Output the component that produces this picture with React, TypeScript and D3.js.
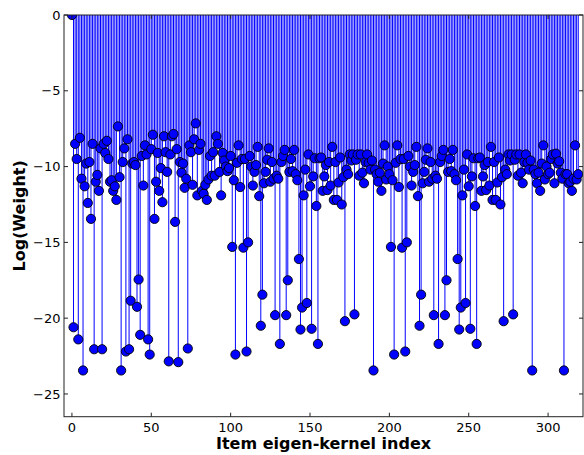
import React from 'react';
import * as d3 from 'd3';

// log weights, index 0..319 in four blocks
const weightsA = [
  0, -20.6, -8.5, -9.5, -21.4, -8.1, -10.8, -23.45, -11.3, -9.8,
  -12.4, -9.7, -13.45, -8.5, -22.05, -11.0, -10.55, -11.6, -8.8, -22.05,
  -8.5, -9.1, -8.3, -9.5, -11.0, -10.9, -11.6, -11.3, -12.2, -7.35,
  -10.7, -23.45, -9.7, -8.8, -22.2, -8.2, -22.05, -18.85, -9.8, -9.7,
  -9.9, -19.25, -17.45, -21.1, -9.3, -11.25, -8.6, -9.2, -21.4, -22.4,
  -8.85, -7.9, -13.45, -11.0, -9.1, -11.6, -10.1, -12.35, -8.0, -9.05,
  -10.35, -22.85, -9.2, -8.0, -7.85, -13.65, -8.85, -22.9, -9.7, -10.4,
  -9.8, -11.4, -10.8, -22.0, -8.6, -9.05, -11.2, -8.2, -7.15, -11.9,
  -8.9, -8.5, -11.6, -11.8, -11.2, -12.2, -10.85, -9.3, -10.6, -9.05,
  -10.6, -8.0, -8.5, -10.35, -11.9, -9.1, -9.6, -10.0, -10.3, -10.1,
];

const weightsB = [
  -9.3, -15.3, -10.9, -22.4, -9.75, -8.6, -11.35, -9.5, -15.35, -9.5,
  -22.2, -15.0, -9.3, -10.0, -11.25, -10.35, -9.9, -8.7, -11.95, -20.5,
  -18.45, -11.1, -10.35, -9.55, -8.8, -11.0, -9.7, -10.8, -19.8, -10.6,
  -10.8, -21.7, -9.7, -9.3, -8.9, -19.8, -17.5, -10.35, -9.5, -10.3,
  -8.9, -10.5, -10.9, -16.1, -20.75, -19.3, -11.9, -10.2, -19.0, -9.2,
  -11.3, -20.7, -10.65, -9.45, -12.6, -21.7, -9.45, -9.4, -11.6, -10.65,
  -9.9, -11.55, -9.7, -11.25, -8.7, -12.2, -9.7, -12.2, -11.05, -9.4,
  -12.5, -10.7, -20.2, -10.2, -10.5, -9.2, -9.6, -9.2, -19.75, -9.55,
  -9.2, -10.6, -9.2, -10.4, -11.1, -9.7, -9.2, -9.75, -10.2, -9.6,
  -23.45, -10.2, -10.5, -11.0, -10.4, -11.6, -9.8, -8.6, -10.85, -10.0,
];

const weightsC = [
  -10.5, -15.3, -10.9, -22.4, -9.75, -8.6, -11.35, -9.5, -15.35, -9.5,
  -22.2, -15.0, -9.3, -10.0, -11.25, -10.35, -9.9, -8.7, -11.95, -20.5,
  -18.45, -11.1, -10.35, -9.55, -8.8, -11.0, -9.7, -10.8, -19.8, -10.6,
  -10.8, -21.7, -9.7, -9.3, -8.9, -19.8, -17.5, -10.35, -9.5, -10.3,
  -8.9, -10.5, -10.9, -16.1, -20.75, -19.3, -11.9, -10.2, -19.0, -9.2,
  -11.3, -20.7, -10.65, -9.45, -12.6, -21.7, -9.45, -9.4, -11.6, -10.65,
  -9.9, -11.55, -9.7, -11.25, -8.7, -12.2, -9.7, -12.2, -11.05, -9.4,
  -12.5, -10.7, -20.2, -10.2, -10.5, -9.2, -9.6, -9.2, -19.75, -9.55,
  -9.2, -10.6, -9.2, -10.4, -11.1, -9.7, -9.2, -9.75, -10.2, -9.6,
  -23.45, -10.2, -10.5, -11.1, -10.4, -11.6, -9.8, -8.6, -10.85, -10.0,
];

const weightsD = [
  -10.5, -10.4, -9.5, -9.2, -11.1, -9.15, -9.8, -9.65, -10.4, -10.8,
  -23.45, -10.5, -10.5, -11.1, -11.0, -11.6, -10.8, -8.6, -10.85, -10.5,
];

const xTicks = [0, 50, 100, 150, 200, 250, 300];
const yTicks = [0, -5, -10, -15, -20, -25];
const xLabel = 'Item eigen-kernel index';
const yLabel = 'Log(Weight)';

const W = 584;
const H = 455;
const left = 64;
const right = 583;
const top = 15;
const bottom = 416.7;

const App = () => {
  const weights = [...weightsA, ...weightsB, ...weightsC, ...weightsD];
  const x = d3.scaleLinear().domain([-5, 322]).range([left, right]);
  const y = d3.scaleLinear().domain([-26.5, 0]).range([bottom, top]);
  const fmt = (v: number) => (v < 0 ? '\u2212' + Math.abs(v) : String(v));
  const font = 'DejaVu Sans, sans-serif';

  return (
    <svg
      width={W}
      height={H}
      style={{ position: 'absolute', left: 0, top: 0, background: '#fff' }}
    >
      <defs>
        <clipPath id="plotArea">
          <rect x={left} y={top} width={right - left} height={bottom - top} />
        </clipPath>
      </defs>
      <g clipPath="url(#plotArea)">
        {/* stems */}
        {weights.map((v, i) => (
          <line
            key={'s' + i}
            x1={x(i)}
            x2={x(i)}
            y1={y(0)}
            y2={y(v)}
            stroke="#0000ff"
            strokeWidth={1}
          />
        ))}
        {/* markers */}
        {weights.map((v, i) => (
          <circle
            key={'m' + i}
            cx={x(i)}
            cy={y(v)}
            r={4.6}
            fill="#0000ff"
            stroke="#000"
            strokeWidth={0.9}
          />
        ))}
      </g>

      {/* frame */}
      <rect
        x={left}
        y={top}
        width={right - left}
        height={bottom - top}
        fill="none"
        stroke="#222"
        strokeWidth={1}
      />

      {/* x ticks, bottom and top, pointing inward */}
      {xTicks.map((t) => (
        <g key={'xt' + t}>
          <line x1={x(t)} x2={x(t)} y1={bottom} y2={bottom - 4} stroke="#222" />
          <line x1={x(t)} x2={x(t)} y1={top} y2={top + 4} stroke="#222" />
          <text
            x={x(t)}
            y={431.5}
            textAnchor="middle"
            fontFamily={font}
            fontSize={13}
            fill="#000"
          >
            {fmt(t)}
          </text>
        </g>
      ))}

      {/* y ticks, left and right */}
      {yTicks.map((t) => (
        <g key={'yt' + t}>
          <line x1={left} x2={left + 4} y1={y(t)} y2={y(t)} stroke="#222" />
          <line x1={right} x2={right - 4} y1={y(t)} y2={y(t)} stroke="#222" />
          <text
            x={60.5}
            y={y(t)}
            dy="0.36em"
            textAnchor="end"
            fontFamily={font}
            fontSize={13}
            fill="#000"
          >
            {fmt(t)}
          </text>
        </g>
      ))}

      <text
        x={(left + right) / 2}
        y={449}
        textAnchor="middle"
        fontFamily={font}
        fontWeight="bold"
        fontSize={16}
        fill="#000"
      >
        {xLabel}
      </text>
      <text
        transform={`translate(24.5, ${(top + bottom) / 2}) rotate(-90)`}
        textAnchor="middle"
        fontFamily={font}
        fontWeight="bold"
        fontSize={16}
        fill="#000"
      >
        {yLabel}
      </text>
    </svg>
  );
};

export default App;
